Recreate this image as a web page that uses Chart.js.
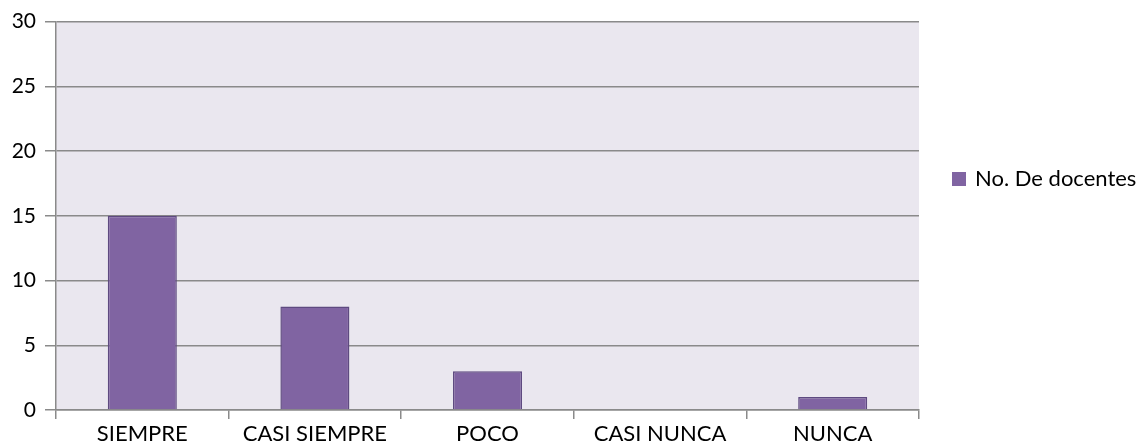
<!DOCTYPE html>
<html><head><meta charset="utf-8">
<script src="https://cdn.jsdelivr.net/npm/chart.js@4"></script>
<style>html,body{margin:0;padding:0;background:#fff}#wrap{width:1141px;height:444px}</style>
</head><body><div id="wrap"><canvas id="c" width="1141" height="444"></canvas></div>
<script>
const categories = ["SIEMPRE", "CASI SIEMPRE", "POCO", "CASI NUNCA", "NUNCA"];
const seriesLabel = "No. De docentes";
const docentes = [15, 8, 3, 0, 1];
const yTicks = [0, 5, 10, 15, 20, 25, 30];

const FONT = "Lato, 'Open Sans', sans-serif";
const gridColor = "#8a8a8a";

const bgPlugin = {
  id: 'plotBg',
  beforeDraw(chart) {
    const {ctx, chartArea: a} = chart;
    ctx.save();
    ctx.fillStyle = "#EAE7EF";
    ctx.fillRect(a.left, a.top, a.right - a.left, a.bottom - a.top);
    ctx.restore();
  }
};
const legendPlugin = {
  id: 'sideLegend',
  afterDraw(chart) {
    const {ctx, chartArea: a} = chart;
    const ds = chart.data.datasets[0];
    ctx.save();
    const x = a.right + 33, y = 179;
    ctx.fillStyle = ds.backgroundColor;
    ctx.fillRect(x, y - 7, 14, 14);
    ctx.fillStyle = "#000";
    ctx.font = "22px " + FONT;
    ctx.textBaseline = "middle";
    ctx.fillText(ds.label, x + 23, y);
    ctx.restore();
  }
};

new Chart(document.getElementById('c'), {
  type: 'bar',
  data: {
    labels: categories,
    datasets: [{
      label: seriesLabel,
      data: docentes,
      backgroundColor: "#8064A2",
      borderColor: "#5E4A80",
      borderWidth: 1.5,
      categoryPercentage: 1.0,
      barPercentage: 0.4
    }]
  },
  options: {
    responsive: false,
    animation: false,
    layout: {padding: {top: 20, right: 222, left: 0, bottom: 0}},
    plugins: {legend: {display: false}, tooltip: {enabled: false}},
    scales: {
      x: {
        offset: true,
        grid: {display: true, offset: true, drawOnChartArea: false, color: gridColor, lineWidth: 1.5, tickLength: 9},
        border: {color: gridColor, width: 1.5},
        ticks: {color: "#000", font: {family: FONT, size: 22}, padding: 2, maxRotation: 0},
        afterFit(s) { s.height = 34; }
      },
      y: {
        min: 0, max: 30,
        afterBuildTicks(s) { s.ticks = yTicks.map(v => ({value: v})); },
        grid: {color: gridColor, lineWidth: 1.5, tickLength: 11},
        border: {color: gridColor, width: 1.5},
        ticks: {color: "#000", font: {family: FONT, size: 21}, padding: 9},
        afterFit(s) { s.width = 56; }
      }
    }
  },
  plugins: [bgPlugin, legendPlugin]
});
</script>
</body></html>
